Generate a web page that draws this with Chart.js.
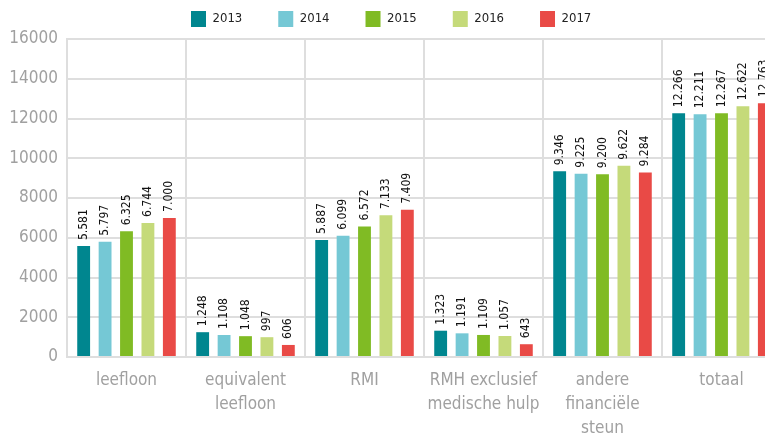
<!DOCTYPE html>
<html>
<head>
<meta charset="utf-8">
<script src="https://cdn.jsdelivr.net/npm/chart.js@4"></script>
<style>
  html, body { margin: 0; padding: 0; background: #fff; overflow: hidden; }
  #wrap { width: 765px; height: 435px; overflow: hidden; }
</style>
</head>
<body>
<div id="wrap"><canvas id="steunChart" width="790" height="435"></canvas></div>
<script>
var categories = [
	'leefloon',
	['equivalent', 'leefloon'],
	'RMI',
	['RMH exclusief', 'medische hulp'],
	['andere', 'financiële', 'steun'],
	'totaal'
];
var years = ['2013', '2014', '2015', '2016', '2017'];
var values2013 = [5581, 1248, 5887, 1323, 9346, 12266];
var values2014 = [5797, 1108, 6099, 1191, 9225, 12211];
var values2015 = [6325, 1048, 6572, 1109, 9200, 12267];
var values2016 = [6744, 997, 7133, 1057, 9622, 12622];
var values2017 = [7000, 606, 7409, 643, 9284, 12763];
var yearColors = ['#00868f', '#75c8d5', '#80bb24', '#c5da7a', '#e94a46'];

var fontFamily = "'Liberation Sans Narrow', 'DejaVu Sans Condensed', 'Liberation Sans', sans-serif";

function dots(v) {
	return String(v).replace(/\B(?=(\d{3})+(?!\d))/g, '.');
}

// value labels, written upwards above each bar
var barLabels = {
	id: 'barLabels',
	afterDatasetsDraw: function(chart) {
		var ctx = chart.ctx;
		ctx.save();
		ctx.fillStyle = '#111';
		ctx.font = '12px ' + fontFamily;
		ctx.textAlign = 'left';
		ctx.textBaseline = 'middle';
		chart.data.datasets.forEach(function(ds, i) {
			chart.getDatasetMeta(i).data.forEach(function(bar, j) {
				ctx.save();
				ctx.translate(bar.x, bar.y - 6);
				ctx.rotate(-Math.PI / 2);
				ctx.fillText(dots(ds.data[j]), 0, 0);
				ctx.restore();
			});
		});
		ctx.restore();
	}
};

// move the legend to where it sits in the picture
var legendPlace = {
	id: 'legendPlace',
	afterLayout: function(chart) {
		var lg = chart.legend;
		var pad = lg.options.labels.padding;
		lg.left = 191 - pad;
		lg.top = 11 - pad;
	}
};

var series = [values2013, values2014, values2015, values2016, values2017];

var config = {
	type: 'bar',
	data: {
		labels: categories,
		datasets: years.map(function(y, i) {
			return {
				label: y,
				data: series[i],
				backgroundColor: yearColors[i],
				categoryPercentage: 0.9,
				barPercentage: 0.6
			};
		})
	},
	options: {
		responsive: false,
		animation: false,
		devicePixelRatio: 1,
		layout: {
			padding: { left: 0, right: 9, top: 0, bottom: 0 }
		},
		plugins: {
			tooltip: { enabled: false },
			legend: {
				display: true,
				position: 'top',
				align: 'start',
				maxHeight: 39,
				labels: {
					boxWidth: 15,
					boxHeight: 16,
					padding: 36,
					color: '#222',
					font: { family: fontFamily, size: 13 }
				}
			}
		},
		scales: {
			x: {
				grid: {
					color: '#dedede',
					lineWidth: 2,
					drawTicks: false,
					offset: true
				},
				border: { color: '#dedede', width: 2 },
				ticks: {
					color: '#a0a0a0',
					padding: 12,
					maxRotation: 0,
					autoSkip: false,
					font: { family: fontFamily, size: 17, lineHeight: 1.4 }
				},
				afterFit: function(scale) { scale.height = 78; }
			},
			y: {
				min: 0,
				max: 16000,
				grid: {
					color: '#dedede',
					lineWidth: 2,
					drawTicks: false
				},
				border: { color: '#dedede', width: 2 },
				ticks: {
					stepSize: 2000,
					color: '#a0a0a0',
					padding: 9,
					font: { family: fontFamily, size: 17 },
					callback: function(v) { return String(v); }
				},
				afterFit: function(scale) { scale.width = 67; }
			}
		}
	},
	plugins: [barLabels, legendPlace]
};

window.onload = function() {
	var ctx = document.getElementById('steunChart').getContext('2d');
	window.steunChart = new Chart(ctx, config);
};
</script>
</body>
</html>
